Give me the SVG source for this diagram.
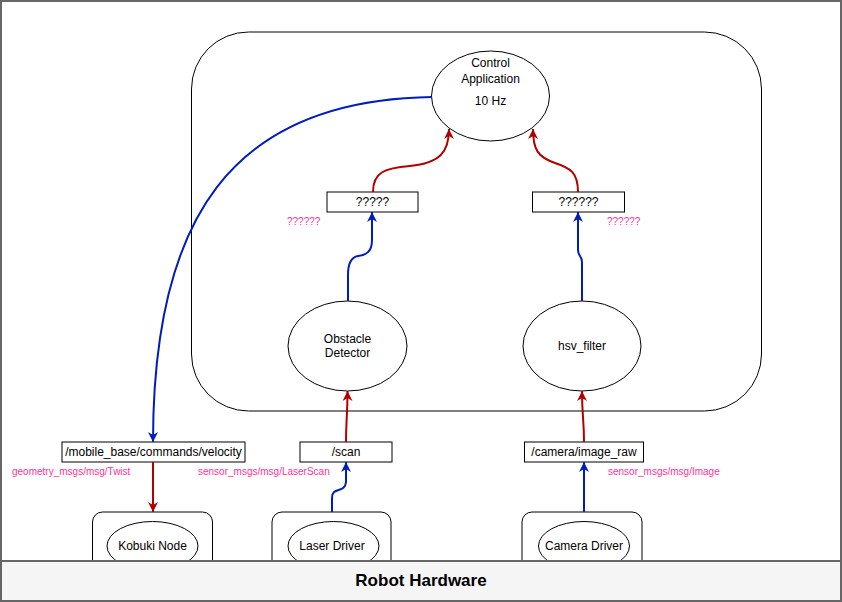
<svg xmlns="http://www.w3.org/2000/svg" width="842" height="602" viewBox="0 0 842 602">
<style>
.t{font-family:"Liberation Sans",Arial,Helvetica,sans-serif;font-size:12px;fill:#000;text-anchor:middle}
.lbl{font-family:"Liberation Sans",Arial,Helvetica,sans-serif;font-size:10px;fill:#FF3399}
.shape{fill:#fff;stroke:#000;stroke-width:1}
.b{fill:none;stroke:#001DBC;stroke-width:2}
.r{fill:none;stroke:#B20000;stroke-width:2}
</style>
<defs>
<marker id="ab" viewBox="0 0 10 10" refX="10" refY="5" markerWidth="10" markerHeight="10" markerUnits="userSpaceOnUse" orient="auto">
<path d="M0,0 L10,5 L0,10 L3,5 z" fill="#001DBC"/>
</marker>
<marker id="ar" viewBox="0 0 10 10" refX="10" refY="5" markerWidth="10" markerHeight="10" markerUnits="userSpaceOnUse" orient="auto">
<path d="M0,0 L10,5 L0,10 L3,5 z" fill="#B20000"/>
</marker>
</defs>
<rect id="frame" x="1" y="1" width="840" height="600" fill="#fff" stroke="#666" stroke-width="2"/>
<g id="container"><rect x="191.5" y="32" width="570" height="379" rx="57" ry="57" class="shape"/></g>
<g id="control-app"><ellipse cx="490.5" cy="96" rx="59" ry="45" class="shape"/>
<text class="t" x="490.5" y="67">Control</text><text class="t" x="490.5" y="83">Application</text><text class="t" x="490.5" y="105">10 Hz</text></g>
<g id="topic-q1"><rect x="327" y="192" width="91" height="20" class="shape"/><text class="t" x="372.5" y="206">?????</text></g>
<g id="topic-q2"><rect x="532.5" y="192" width="92" height="20" class="shape"/><text class="t" x="578.5" y="206">??????</text></g>
<g id="obstacle-detector"><ellipse cx="347.5" cy="346" rx="59.5" ry="45" class="shape"/>
<text class="t" x="347.5" y="343">Obstacle</text><text class="t" x="347.5" y="357">Detector</text></g>
<g id="hsv-filter"><ellipse cx="582" cy="346" rx="59" ry="45" class="shape"/><text class="t" x="582" y="350">hsv_filter</text></g>
<g id="topic-velocity"><rect x="62" y="442" width="183" height="20" class="shape"/><text class="t" x="153.5" y="456">/mobile_base/commands/velocity</text></g>
<g id="topic-scan"><rect x="300" y="442" width="92" height="20" class="shape"/><text class="t" x="346" y="456">/scan</text></g>
<g id="topic-image"><rect x="524.5" y="442" width="119" height="20" class="shape"/><text class="t" x="584" y="456">/camera/image_raw</text></g>
<g id="kobuki"><rect x="92.5" y="512" width="120" height="80" rx="10" ry="10" class="shape"/><ellipse cx="152.5" cy="546" rx="45.5" ry="24.5" class="shape"/><text class="t" x="152.5" y="550">Kobuki Node</text></g>
<g id="laser"><rect x="272" y="512" width="119" height="80" rx="10" ry="10" class="shape"/><ellipse cx="333.5" cy="546" rx="45.5" ry="24.5" class="shape"/><text class="t" x="332" y="550">Laser Driver</text></g>
<g id="camera"><rect x="522" y="512" width="120" height="80" rx="10" ry="10" class="shape"/><ellipse cx="584" cy="546" rx="45.5" ry="24.5" class="shape"/><text class="t" x="584" y="550">Camera Driver</text></g>
<g id="connectors">
<path class="b" marker-end="url(#ab)" d="M432,97 C230,100 153,220 153,442"/>
<path class="r" marker-end="url(#ar)" d="M153,462 L153,512"/>
<path class="b" marker-end="url(#ab)" d="M332,512 L332,498 C332,486 345,494 346,482 L346,462"/>
<path class="r" marker-end="url(#ar)" d="M346,442 C346,420 347.5,415 347.5,391"/>
<path class="b" marker-end="url(#ab)" d="M584,512 L584,462"/>
<path class="r" marker-end="url(#ar)" d="M584,442 C584,420 582,415 582,391"/>
<path class="b" marker-end="url(#ab)" d="M348,301 L348,275 C348,262 352,257 358,256 C366,255 372,252 372,240 L372,212"/>
<path class="b" marker-end="url(#ab)" d="M582,301 L582,262 C582,256 578,256 578,250 L578,212"/>
<path class="r" marker-end="url(#ar)" d="M373,192 C373,172 385,168 410,166 C440,163 449,152 449,129"/>
<path class="r" marker-end="url(#ar)" d="M578,192 C578,172 570,168 555,163 C538,157 533,150 533,129"/>
</g>
<g id="labels">
<text class="lbl" x="287" y="225">??????</text>
<text class="lbl" x="607" y="225">??????</text>
<text class="lbl" x="12" y="475">geometry_msgs/msg/Twist</text>
<text class="lbl" x="198" y="475">sensor_msgs/msg/LaserScan</text>
<text class="lbl" x="608" y="475">sensor_msgs/msg/Image</text>
</g>
<g id="robot-hardware"><rect x="1" y="561" width="840" height="40" fill="#f5f5f5" stroke="#666" stroke-width="2"/>
<text x="421" y="586" style="font-family:'Liberation Sans',Arial,Helvetica,sans-serif;font-size:17px;font-weight:bold;fill:#000;text-anchor:middle">Robot Hardware</text></g>
</svg>
